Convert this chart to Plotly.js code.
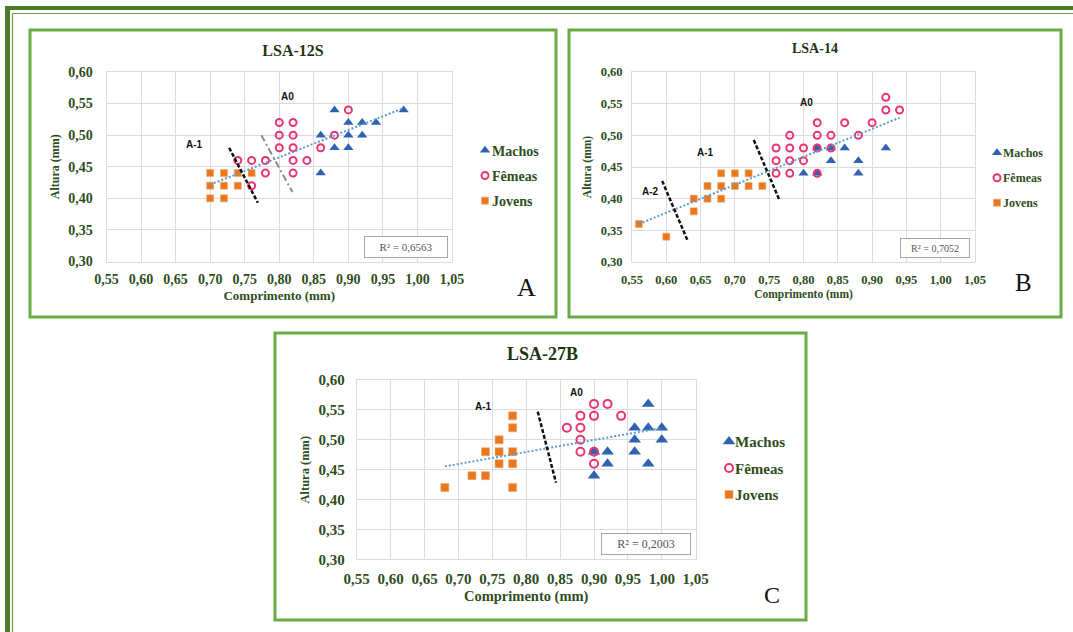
<!DOCTYPE html>
<html><head><meta charset="utf-8">
<script src="https://cdn.plot.ly/plotly-3.0.1.min.js"></script>
<style>html,body{margin:0;padding:0;background:#fff}#chart{width:1073px;height:632px}</style>
</head><body><div id="chart"></div>
<script>
// ---------------- DATA ----------------
const panelTitles = ['LSA-12S', 'LSA-14', 'LSA-27B'];
const seriesNames = ['Machos', 'Fêmeas', 'Jovens'];
const r2Labels = ['R² = 0,6563', 'R² = 0,7052', 'R² = 0,2003'];
const panelLetters = ['A', 'B', 'C'];
const xTickVals = [0.55, 0.60, 0.65, 0.70, 0.75, 0.80, 0.85, 0.90, 0.95, 1.00, 1.05];
const xTickLabels = ['0,55', '0,60', '0,65', '0,70', '0,75', '0,80', '0,85', '0,90', '0,95', '1,00', '1,05'];
const yTickVals = [0.30, 0.35, 0.40, 0.45, 0.50, 0.55, 0.60];
const yTickLabels = ['0,30', '0,35', '0,40', '0,45', '0,50', '0,55', '0,60'];
const xAxisTitle = 'Comprimento (mm)';
const yAxisTitle = 'Altura (mm)';

// LSA-12S
const machosX_A = [0.88, 0.98, 0.90, 0.92, 0.94, 0.86, 0.90, 0.92, 0.88, 0.90, 0.86];
const machosY_A = [0.54, 0.54, 0.52, 0.52, 0.52, 0.50, 0.50, 0.50, 0.48, 0.48, 0.44];
const femeasX_A = [0.90, 0.80, 0.82, 0.80, 0.82, 0.88, 0.80, 0.82, 0.86, 0.74, 0.76, 0.78, 0.82, 0.84, 0.78, 0.82, 0.76];
const femeasY_A = [0.54, 0.52, 0.52, 0.50, 0.50, 0.50, 0.48, 0.48, 0.48, 0.46, 0.46, 0.46, 0.46, 0.46, 0.44, 0.44, 0.42];
const jovensX_A = [0.70, 0.72, 0.74, 0.76, 0.70, 0.72, 0.74, 0.70, 0.72];
const jovensY_A = [0.44, 0.44, 0.44, 0.44, 0.42, 0.42, 0.42, 0.40, 0.40];

// LSA-14
const machosX_B = [0.82, 0.84, 0.86, 0.92, 0.84, 0.88, 0.80, 0.82, 0.88];
const machosY_B = [0.48, 0.48, 0.48, 0.48, 0.46, 0.46, 0.44, 0.44, 0.44];
const femeasX_B = [0.92, 0.92, 0.94, 0.82, 0.86, 0.90, 0.78, 0.82, 0.84, 0.88, 0.76, 0.78, 0.80, 0.82, 0.84, 0.76, 0.78, 0.80, 0.76, 0.78, 0.82];
const femeasY_B = [0.56, 0.54, 0.54, 0.52, 0.52, 0.52, 0.50, 0.50, 0.50, 0.50, 0.48, 0.48, 0.48, 0.48, 0.48, 0.46, 0.46, 0.46, 0.44, 0.44, 0.44];
const jovensX_B = [0.56, 0.60, 0.64, 0.64, 0.66, 0.66, 0.68, 0.68, 0.68, 0.70, 0.70, 0.72, 0.72, 0.74];
const jovensY_B = [0.36, 0.34, 0.40, 0.38, 0.42, 0.40, 0.44, 0.42, 0.40, 0.44, 0.42, 0.44, 0.42, 0.42];

// LSA-27B
const machosX_C = [0.98, 0.96, 0.98, 1.00, 0.96, 1.00, 0.96, 0.90, 0.92, 0.92, 0.98, 0.90];
const machosY_C = [0.56, 0.52, 0.52, 0.52, 0.50, 0.50, 0.48, 0.48, 0.48, 0.46, 0.46, 0.44];
const femeasX_C = [0.90, 0.92, 0.88, 0.90, 0.94, 0.86, 0.88, 0.88, 0.88, 0.90, 0.90];
const femeasY_C = [0.56, 0.56, 0.54, 0.54, 0.54, 0.52, 0.52, 0.50, 0.48, 0.48, 0.46];
const jovensX_C = [0.78, 0.78, 0.76, 0.74, 0.76, 0.78, 0.76, 0.78, 0.72, 0.74, 0.68, 0.78];
const jovensY_C = [0.54, 0.52, 0.50, 0.48, 0.48, 0.48, 0.46, 0.46, 0.44, 0.44, 0.42, 0.42];

// region labels and separators (data coordinates)
const regionLabels = [
  [{t:'A0', x:0.8115, y:0.561}, {t:'A-1', x:0.6775, y:0.485}],
  [{t:'A0', x:0.804, y:0.552}, {t:'A-1', x:0.657, y:0.473}, {t:'A-2', x:0.577, y:0.411}],
  [{t:'A0', x:0.874, y:0.579}, {t:'A-1', x:0.737, y:0.556}]
];
const separators = [
  [{x0:0.7275, y0:0.48, x1:0.769, y1:0.393, kind:'black'}, {x0:0.774, y0:0.50, x1:0.819, y1:0.41, kind:'gray'}],
  [{x0:0.594, y0:0.428, x1:0.631, y1:0.334, kind:'black'}, {x0:0.7275, y0:0.4925, x1:0.7645, y1:0.399, kind:'black'}],
  [{x0:0.817, y0:0.547, x1:0.844, y1:0.428, kind:'black'}]
];

// ---------------- LAYOUT GEOMETRY (pixels) ----------------
const W = 1073, H = 632;
const PX = v => v / W, PY = v => 1 - v / H;
const geo = [
  {plot:[106.5, 452, 72, 261.5], frame:[30, 556, 30, 317], title:{x:293, y:50, s:16}, tick:14, xlen:5, ylen:10,
   xt:{s:13, so:4}, yt:{s:12, so:6}, leg:{x:452, y:175.7, s:14, gap:4, shift:13}, r2:{x:406, y:247, w:80, h:18, s:11},
   letter:{x:526, y:287, s:26}, mk:{tri:9, circ:7, sq:7}},
  {plot:[632, 975, 72, 262], frame:[569, 1061, 30, 317], title:{x:815, y:49, s:14}, tick:12.5, xlen:6, ylen:6,
   xt:{s:11.5, so:3}, yt:{s:11.5, so:6}, leg:{x:963, y:177.7, s:12, gap:6, shift:14}, r2:{x:935, y:247.5, w:66, h:16, s:10},
   letter:{x:1023, y:283, s:25}, mk:{tri:9, circ:7, sq:7}},
  {plot:[356.7, 695.7, 380, 559.3], frame:[275, 806, 333, 620], title:{x:542, y:354, s:18}, tick:15, xlen:6, ylen:8,
   xt:{s:14.5, so:4}, yt:{s:12.5, so:6}, leg:{x:695, y:468.3, s:15, gap:4, shift:14}, r2:{x:646, y:544, w:86, h:18, s:12},
   letter:{x:772, y:595, s:24}, mk:{tri:11, circ:8, sq:8}}
];

const SERIF = 'Liberation Serif, Times New Roman, serif';
const SANS = 'Liberation Sans, Arial, sans-serif';
const TXT = '#2E4D1C';
const TITLE_COL = '#1E3512';
const COL = {machos:'#2F62B0', femeas:'#E8356D', jovens:'#E8771E', trend:'#5B9BD5'};

const datasets = [
  {mx:machosX_A, my:machosY_A, fx:femeasX_A, fy:femeasY_A, jx:jovensX_A, jy:jovensY_A},
  {mx:machosX_B, my:machosY_B, fx:femeasX_B, fy:femeasY_B, jx:jovensX_B, jy:jovensY_B},
  {mx:machosX_C, my:machosY_C, fx:femeasX_C, fy:femeasY_C, jx:jovensX_C, jy:jovensY_C}
];

function linfit(xs, ys) {
  const n = xs.length;
  const mx = xs.reduce((a,b)=>a+b,0)/n, my = ys.reduce((a,b)=>a+b,0)/n;
  let sxy = 0, sxx = 0;
  for (let i=0;i<n;i++){ sxy += (xs[i]-mx)*(ys[i]-my); sxx += (xs[i]-mx)*(xs[i]-mx); }
  const b = sxy/sxx; return {b:b, a:my - b*mx};
}

const traces = [], shapes = [], annotations = [];
const layout = {
  width: W, height: H, margin:{l:0, r:0, t:0, b:0}, paper_bgcolor:'#fff', plot_bgcolor:'#fff',
  separators: ', ', showlegend: true, hovermode: false
};

datasets.forEach((d, i) => {
  const g = geo[i];
  const sfx = i === 0 ? '' : String(i+1);
  const xa = 'x' + sfx, ya = 'y' + sfx, lg = 'legend' + sfx;
  const mk = g.mk;
  traces.push({x:d.mx, y:d.my, name:seriesNames[0], type:'scatter', mode:'markers', xaxis:xa, yaxis:ya, legend:lg, legendgroup:'m'+i,
    marker:{symbol:'triangle-up', size:mk.tri, color:COL.machos, line:{width:0}}});
  traces.push({x:d.fx, y:d.fy, name:seriesNames[1], type:'scatter', mode:'markers', xaxis:xa, yaxis:ya, legend:lg, legendgroup:'f'+i,
    marker:{symbol:'circle-open', size:mk.circ, color:COL.femeas, line:{width:2, color:COL.femeas}}});
  traces.push({x:d.jx, y:d.jy, name:seriesNames[2], type:'scatter', mode:'markers', xaxis:xa, yaxis:ya, legend:lg, legendgroup:'j'+i,
    marker:{symbol:'square', size:mk.sq, color:COL.jovens, line:{width:0.6, color:'#F4A66A'}}});
  const allX = d.mx.concat(d.fx, d.jx), allY = d.my.concat(d.fy, d.jy);
  const f = linfit(allX, allY);
  const x0 = Math.min(...allX), x1 = Math.max(...allX);
  traces.push({x:[x0, x1], y:[f.a + f.b*x0, f.a + f.b*x1], type:'scatter', mode:'lines', xaxis:xa, yaxis:ya, legend:lg,
    showlegend:false, line:{color:COL.trend, width:2, dash:'2px,2px'}, hoverinfo:'skip'});

  const [l, r, t, b] = g.plot;
  layout['xaxis' + sfx] = {
    domain:[PX(l), PX(r)], anchor:ya, range:[0.55, 1.05], tickvals:xTickVals, ticktext:xTickLabels,
    showgrid:true, gridcolor:'#DCDCDC', gridwidth:1, zeroline:false, showline:true, linecolor:'#DCDCDC', mirror:true,
    ticks:'outside', ticklen:g.xlen, tickcolor:'rgba(0,0,0,0)', fixedrange:true,
    tickfont:{family:SERIF, size:g.tick, color:TXT, weight:'bold'},
    title:{text:xAxisTitle, standoff:g.xt.so, font:{family:SERIF, size:g.xt.s, color:TXT, weight:'bold'}}
  };
  layout['yaxis' + sfx] = {
    domain:[PY(b), PY(t)], anchor:xa, range:[0.30, 0.60], tickvals:yTickVals, ticktext:yTickLabels,
    showgrid:true, gridcolor:'#DCDCDC', gridwidth:1, zeroline:false, showline:true, linecolor:'#DCDCDC', mirror:true,
    ticks:'outside', ticklen:g.ylen, tickcolor:'rgba(0,0,0,0)', fixedrange:true,
    tickfont:{family:SERIF, size:g.tick, color:TXT, weight:'bold'},
    title:{text:yAxisTitle, standoff:g.yt.so, font:{family:SERIF, size:g.yt.s, color:TXT, weight:'bold'}}
  };
  layout[lg] = {
    x:PX(g.leg.x), y:PY(g.leg.y), xanchor:'left', yanchor:'middle', xref:'paper', yref:'paper',
    bgcolor:'rgba(0,0,0,0)', borderwidth:0, traceorder:'grouped', tracegroupgap:g.leg.gap,
    font:{family:SERIF, size:g.leg.s, color:TXT, weight:'bold'}, itemclick:false, itemdoubleclick:false
  };

  // panel frame
  const [fl, fr, ft, fb] = g.frame;
  shapes.push({type:'rect', xref:'paper', yref:'paper', x0:PX(fl), x1:PX(fr), y0:PY(fb), y1:PY(ft),
    line:{color:'#6AAB45', width:3}, fillcolor:'rgba(0,0,0,0)', layer:'below'});

  // separators
  separators[i].forEach(s => {
    shapes.push({type:'line', xref:xa, yref:ya, x0:s.x0, y0:s.y0, x1:s.x1, y1:s.y1,
      line: s.kind === 'black' ? {color:'#111', width:2.5, dash:'4px,2px'} : {color:'#8C8C8C', width:2, dash:'7px,3px,2px,3px'}});
  });
  // region labels
  regionLabels[i].forEach(rl => {
    annotations.push({xref:xa, yref:ya, x:rl.x, y:rl.y, text:rl.t, showarrow:false,
      font:{family:SANS, size:10, color:'#111', weight:'bold'}});
  });
  // title
  if (i === 0) {
    layout.title = {text:panelTitles[0], x:PX(g.title.x), y:PY(g.title.y), xref:'paper', yref:'paper', xanchor:'center', yanchor:'middle',
      font:{family:SERIF, size:g.title.s, color:TITLE_COL, weight:'bold'}};
  } else {
    annotations.push({xref:'paper', yref:'paper', x:PX(g.title.x), y:PY(g.title.y), text:panelTitles[i], showarrow:false,
      xanchor:'center', yanchor:'middle', font:{family:SERIF, size:g.title.s, color:TITLE_COL, weight:'bold'}});
  }
  // R2 box
  annotations.push({xref:'paper', yref:'paper', x:PX(g.r2.x), y:PY(g.r2.y), text:r2Labels[i], showarrow:false,
    xanchor:'center', yanchor:'middle', width:g.r2.w, height:g.r2.h, bgcolor:'#fff', bordercolor:'#A6A6A6', borderwidth:1, borderpad:1,
    font:{family:SERIF, size:g.r2.s, color:'#555'}});
  // letter
  annotations.push({xref:'paper', yref:'paper', x:PX(g.letter.x), y:PY(g.letter.y), text:panelLetters[i], showarrow:false,
    xanchor:'center', yanchor:'middle', font:{family:SERIF, size:g.letter.s, color:'#111'}});
});

// outer frame (top and left edges visible)
shapes.push({type:'line', xref:'paper', yref:'paper', x0:PX(7), x1:1, y0:PY(8), y1:PY(8), line:{color:'#4E7A2C', width:4}});
shapes.push({type:'line', xref:'paper', yref:'paper', x0:PX(7.5), x1:PX(7.5), y0:PY(6), y1:0, line:{color:'#4E7A2C', width:5}});
shapes.push({type:'line', xref:'paper', yref:'paper', x0:PX(12.5), x1:1, y0:PY(13.5), y1:PY(13.5), line:{color:'#6B9A47', width:1.2}});
shapes.push({type:'line', xref:'paper', yref:'paper', x0:PX(12.5), x1:PX(12.5), y0:PY(13.5), y1:0, line:{color:'#6B9A47', width:1.2}});

layout.shapes = shapes;
layout.annotations = annotations;

Plotly.newPlot('chart', traces, layout, {displayModeBar:false, staticPlot:true}).then(gd => {
  // move legend symbols closer to their labels, as in the original
  const legNames = ['legend', 'legend2', 'legend3'];
  legNames.forEach((nm, i) => {
    const lgEl = gd.querySelector('g.' + nm);
    if (!lgEl) return;
    lgEl.querySelectorAll('g.legendsymbols').forEach(s => {
      const old = s.getAttribute('transform') || '';
      s.setAttribute('transform', old + ' translate(' + geo[i].leg.shift + ',0)');
    });
  });
});
</script></body></html>
